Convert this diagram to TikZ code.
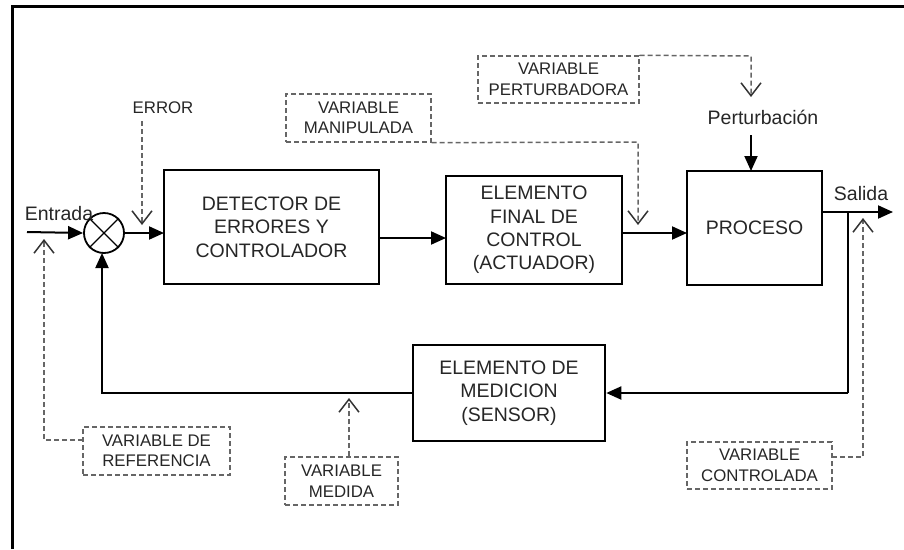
\documentclass[tikz,border=0pt]{standalone}
\usepackage{fontspec}
\setmainfont{Liberation Sans}
\usetikzlibrary{arrows.meta}
\begin{document}
\begin{tikzpicture}[x=1pt,y=-1pt,
  blockbox/.style={draw, line width=2.6pt, align=center, inner sep=0pt,
    font=\fontsize{19.5}{23.4}\selectfont, text=black!85},
  annbox/.style={draw=black!60, line width=1.4pt, dash pattern=on 5pt off 3pt,
    align=center, inner sep=0pt, font=\fontsize{16.8}{20.5}\selectfont, text=black!85},
  lbl/.style={inner sep=0pt, font=\fontsize{19.5}{23.4}\selectfont, text=black!85},
  smlbl/.style={inner sep=0pt, font=\fontsize{16.8}{20.5}\selectfont, text=black!85},
  conn/.style={line width=2pt, -{Triangle[length=15pt,width=13pt]}},
  line/.style={line width=2pt},
  dashconn/.style={draw=black!60, line width=1.5pt, dash pattern=on 5pt off 3pt,
    -{Straight Barb[length=13pt,width=20pt,line width=1.5pt,color=black!80]}},
  frameline/.style={line width=3pt}
]
\useasboundingbox (0,0) rectangle (904,549);
% frame (top and left only)
\draw[frameline] (12,549) -- (12,6) -- (904,6);

% main blocks
\node[blockbox, minimum width=215pt, minimum height=114pt] (det) at (271.5,227)
  {DETECTOR DE\\ERRORES Y\\CONTROLADOR};
\node[blockbox, minimum width=176pt, minimum height=108pt] (fin) at (534,230)
  {ELEMENTO\\FINAL DE\\CONTROL\\(ACTUADOR)};
\node[blockbox, minimum width=135pt, minimum height=114pt] (proc) at (754.5,228)
  {PROCESO};
\node[blockbox, minimum width=192pt, minimum height=96pt] (sens) at (509,393)
  {ELEMENTO DE\\MEDICION\\(SENSOR)};

% summing junction
\node[draw, circle, line width=1.8pt, minimum size=40pt, inner sep=0pt] (sum) at (104,233) {};
\draw[line width=1.4pt] (sum.north west) -- (sum.south east)
  (sum.north east) -- (sum.south west);

% labels
\node[lbl] (entr) at (59,214) {Entrada};
\node[lbl] (sal) at (861,194) {Salida};
\node[lbl] (pert) at (763,117) {Perturbación};
\node[smlbl] (err) at (163,108) {ERROR};

% annotation boxes
\node[annbox, minimum width=145pt, minimum height=48pt] (manip) at (358.5,118)
  {VARIABLE\\MANIPULADA};
\node[annbox, minimum width=161pt, minimum height=47pt] (pertv) at (558.5,79.5)
  {VARIABLE\\PERTURBADORA};
\node[annbox, minimum width=147pt, minimum height=48pt] (ref) at (156.5,451)
  {VARIABLE DE\\REFERENCIA};
\node[annbox, minimum width=113pt, minimum height=48pt] (med) at (341.5,481)
  {VARIABLE\\MEDIDA};
\node[annbox, minimum width=145pt, minimum height=47pt] (contr) at (759.5,465.5)
  {VARIABLE\\CONTROLADA};

% coordinates
\coordinate (in) at (27,232);
\coordinate (out) at (893,212);
\coordinate (c1) at (164,233);
\coordinate (c2a) at (379,238);
\coordinate (c2b) at (446,238);
\coordinate (c3a) at (622,233);
\coordinate (c3b) at (687,233);
\coordinate (o1) at (822,212);
\coordinate (fb1) at (848,212);
\coordinate (fb2) at (848,393);
\coordinate (fb3) at (102,393);
\coordinate (fb4) at (102,253);
\coordinate (pt1) at (751,135);
\coordinate (pt2) at (751,171);

% main connectors
\draw[conn] (in) -- (sum.west);
\draw[conn] (sum.east) -- (c1);
\draw[conn] (c2a) -- (c2b);
\draw[conn] (c3a) -- (c3b);
\draw[conn] (o1) -- (out);
\draw[line] (fb1) -- (fb2);
\draw[conn] (fb2) -- (sens.east);
\draw[conn] (sens.west) -- (fb3) -- (fb4);
\draw[conn] (pt1) -- (pt2);

% dashed annotation connectors
\coordinate (e1) at (142,121);
\coordinate (e2) at (142,225);
\draw[dashconn] (e1) -- (e2);

\coordinate (r0) at (83,440);
\coordinate (r1) at (44,440);
\coordinate (r2) at (44,239);
\draw[dashconn] (r0) -- (r1) -- (r2);

\coordinate (m1) at (349,398);
\draw[dashconn] (med.north -| m1) -- (m1);

\coordinate (mp1) at (638,142);
\coordinate (mp2) at (638,225);
\draw[dashconn] (manip.south east) -- (mp1) -- (mp2);

\coordinate (pp1) at (751,56);
\coordinate (pp2) at (751,97);
\draw[dashconn] (pertv.north east) -- (pp1) -- (pp2);

\coordinate (cc0) at (832,457);
\coordinate (cc1) at (863,457);
\coordinate (cc2) at (863,218);
\draw[dashconn] (cc0) -- (cc1) -- (cc2);
\end{tikzpicture}
\end{document}
